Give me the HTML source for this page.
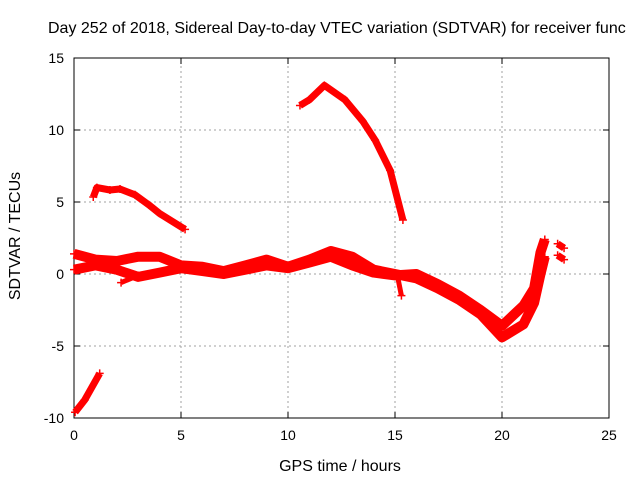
<!DOCTYPE html>
<html><head><meta charset="utf-8"><style>
body{margin:0;background:#fff;}
svg text{font-family:"Liberation Sans",sans-serif;font-size:14px;fill:#000;}
svg text.big{font-size:16px;}
</style></head><body>
<svg id="chart" width="640" height="480"></svg>
<script>
const xTicks=[0,5,10,15,20,25];
const yTicks=[-10,-5,0,5,10,15];
const arcHours=[10.56,11.0,11.7,12.66,13.5,14.07,14.77,15.37];
const arcVals=[11.7,12.1,13.1,12.1,10.6,9.3,7.2,3.75];
const morningHours=[0.9,1.07,1.68,2.15,2.85,3.5,4.0,5.19];
const morningVals=[5.35,6.0,5.83,5.9,5.5,4.8,4.2,3.1];
const earlyHours=[0.05,0.5,1.2];
const earlyVals=[-9.6,-8.75,-6.9];
const lowHours=[0,1,2,3,4,5,6,7,8,9,10,11,12,13,14,15,16,17,18,19,20,21,21.5,21.8,22];
const lowVals=[0.3,0.6,0.3,-0.2,0.1,0.4,0.2,0.0,0.3,0.6,0.4,0.8,1.2,0.6,0.1,-0.1,0,-0.7,-1.5,-2.5,-3.6,-2.2,-1.0,1.5,2.4];
const highHours=[0,1,2,3,4,5,6,7,8,9,10,11,12,13,14,15,16,17,18,19,20,21,21.5,21.8,22];
const highVals=[1.4,1.0,0.9,1.2,1.2,0.6,0.5,0.2,0.6,1.0,0.5,1.0,1.6,1.2,0.3,0.0,-0.3,-1.0,-1.8,-2.8,-4.4,-3.5,-2.0,0,1.2];
const spurHours=[15.1,15.3];
const spurVals=[0,-1.5];
const spur2Hours=[2.2,3.0];
const spur2Vals=[-0.6,-0.1];
const lateHours=[22.6,22.9];
const lateVals=[2.1,1.8];
const late2Hours=[22.6,22.9];
const late2Vals=[1.3,1.0];

const X0=74,X1=609,Y0=418,Y1=58;
const xs=h=>X0+(h-0)/25*(X1-X0);
const ys=v=>Y0-(v+10)/25*(Y0-Y1);
const svg=document.getElementById('chart');
const NS='http://www.w3.org/2000/svg';
function mk(tag,attrs,parent){const e=document.createElementNS(NS,tag);for(const k in attrs)e.setAttribute(k,attrs[k]);(parent||svg).appendChild(e);return e;}

xTicks.forEach(t=>{
  if(t>0&&t<25){const g=mk('line',{x1:xs(t),x2:xs(t),y1:Y0,y2:Y1,stroke:'#a0a0a0','stroke-dasharray':'2,3'});
  
  }
  const tx=mk('text',{x:xs(t),y:Y0+22,'text-anchor':'middle'});tx.textContent=t;
  
  
  mk('line',{x1:xs(t),x2:xs(t),y1:Y0,y2:Y0-6,stroke:'#000'});
  mk('line',{x1:xs(t),x2:xs(t),y1:Y1,y2:Y1+6,stroke:'#000'});
});
yTicks.forEach(t=>{
  if(t>-10&&t<15){const g=mk('line',{x1:X0,x2:X1,y1:ys(t),y2:ys(t),stroke:'#a0a0a0','stroke-dasharray':'2,3'});
  
  }
  const tx=mk('text',{x:X0-10,y:ys(t)+5,'text-anchor':'end'});tx.textContent=t;
  
  
  mk('line',{x1:X0,x2:X0+6,y1:ys(t),y2:ys(t),stroke:'#000'});
  mk('line',{x1:X1,x2:X1-6,y1:ys(t),y2:ys(t),stroke:'#000'});
});
const frame=mk('rect',{x:X0,y:Y1,width:X1-X0,height:Y0-Y1,fill:'none',stroke:'#000'});



function track(hs,vs,name,w){
  const d=hs.map((h,i)=>(i?'L':'M')+xs(h).toFixed(1)+','+ys(vs[i]).toFixed(1)).join('');
  const p=mk('path',{d:d,fill:'none',stroke:'#ff0000','stroke-width':w,'stroke-linejoin':'round','stroke-linecap':'butt'});
  
  
  hs.forEach((h,i)=>{const x=xs(h),y=ys(vs[i]);
    const m=mk('path',{d:`M${x-4},${y}h8M${x},${y-4}v8`,stroke:'#ff0000','stroke-width':1.5});
    
    });
}
track(arcHours,arcVals,'series-afternoon-arc',7);
track(morningHours,morningVals,'series-morning-arc',7);
track(earlyHours,earlyVals,'series-early-segment',7);
track(lowHours,lowVals,'series-main-lower',10);
track(highHours,highVals,'series-main-upper',10);
track(spurHours,spurVals,'series-spur',5);
track(spur2Hours,spur2Vals,'series-spur-2',5);
track(lateHours,lateVals,'series-late-upper',7);
track(late2Hours,late2Vals,'series-late-lower',7);

const title=mk('text',{x:48,y:33,'class':'big'});title.textContent='Day 252 of 2018, Sidereal Day-to-day VTEC variation (SDTVAR) for receiver func';


const xl=mk('text',{x:340,y:471,'text-anchor':'middle','class':'big'});xl.textContent='GPS time / hours';


const yl=mk('text',{x:0,y:0,'text-anchor':'middle','class':'big',transform:'translate(20,236) rotate(-90)'});yl.textContent='SDTVAR / TECUs';


</script>
</body></html>
